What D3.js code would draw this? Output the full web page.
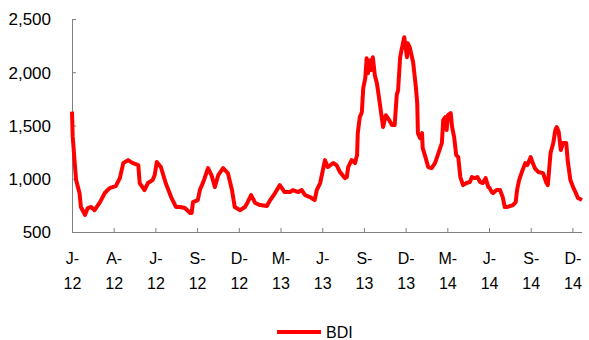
<!DOCTYPE html>
<html>
<head>
<meta charset="utf-8">
<script src="https://cdn.jsdelivr.net/npm/d3@7"></script>
<style>
  html, body { margin: 0; padding: 0; background: #fff; }
  svg { display: block; font-family: "Liberation Sans", Arial, sans-serif; }
</style>
</head>
<body>
<svg id="chart" width="589" height="340"></svg>
<script>
// Baltic Dry Index, Jan 2012 - Dec 2014, by trading-day offset
const day = [0, 1, 4, 6, 11, 13, 19, 23, 28, 33, 41, 48, 55, 64, 70, 75, 82, 89, 97, 99,
  106, 111, 118, 121, 124, 130, 137, 145, 152, 158, 165, 173, 175, 177, 184, 187, 192, 199, 204, 209,
  214, 221, 228, 234, 238, 246, 253, 257, 262, 268, 275, 285, 290, 297, 304, 309, 311, 319, 323, 331,
  336, 341, 348, 355, 358, 363, 367, 370, 374, 382, 387, 392, 399, 402, 404, 409, 414, 417, 418, 421,
  424, 426, 429, 431, 433, 436, 438, 440, 443, 446, 449, 452, 455, 459, 464, 468, 472, 475, 477, 480,
  482, 486, 488, 490, 491, 494, 499, 503, 505, 506, 509, 512, 513, 517, 521, 526, 531, 535, 541, 543,
  546, 548, 550, 554, 556, 559, 562, 565, 568, 572, 577, 582, 585, 589, 593, 597, 601, 605, 609, 611,
  614, 616, 621, 626, 630, 633, 637, 645, 649, 651, 654, 658, 663, 666, 671, 674, 677, 682, 689, 694,
  696, 700, 704, 707, 709, 712, 715, 718, 723, 725, 729, 733, 737, 740, 746];
const bdi = [1630, 1400, 1147, 988, 866, 735, 660, 725, 735, 705, 780, 866, 912, 931, 1006, 1147, 1175, 1147, 1128, 960,
  894, 960, 988, 1035, 1157, 1110, 960, 828, 735, 735, 725, 678, 678, 780, 800, 894, 969, 1100, 1035, 922,
  1035, 1100, 1053, 894, 735, 705, 735, 780, 847, 772, 753, 744, 800, 866, 940, 894, 875, 875, 894, 875,
  894, 847, 828, 800, 894, 960, 1082, 1175, 1110, 1147, 1128, 1063, 1006, 1016, 1110, 1175, 1147, 1222, 1428, 1579,
  1625, 1851, 1945, 2132, 1991, 2113, 2020, 2141, 1972, 1897, 1766, 1625, 1485, 1597, 1550, 1504, 1504, 1785, 1832, 2141,
  2207, 2329, 2235, 2141, 2273, 2235, 2094, 1860, 1710, 1428, 1382, 1428, 1288, 1203, 1110, 1100, 1147, 1222, 1335, 1550,
  1579, 1457, 1597, 1616, 1485, 1391, 1222, 1203, 1016, 940, 960, 969, 1016, 1006, 1016, 969, 960, 1006, 922, 912,
  875, 866, 894, 894, 828, 735, 735, 753, 780, 894, 988, 1063, 1147, 1128, 1203, 1147, 1100, 1063, 1053, 960,
  940, 1241, 1335, 1457, 1485, 1438, 1269, 1335, 1335, 1175, 988, 922, 866, 819, 800];

// Category labels, one every 61 trading days
const tickLabels = ["J-|12", "A-|12", "J-|12", "S-|12", "D-|12", "M-|13", "J-|13",
  "S-|13", "D-|13", "M-|14", "J-|14", "S-|14", "D-|14"];
const tickStep = 61;
const yTicks = [500, 1000, 1500, 2000, 2500];
const seriesName = "BDI";

const svg = d3.select("#chart");
const plotLeft = 72, plotRight = 582, plotTop = 19, plotBottom = 232;

const x = d3.scaleLinear().domain([0, 746]).range([plotLeft, plotRight]);
const y = d3.scaleLinear().domain([500, 2500]).range([plotBottom, plotTop]);

const axisColor = "#808080";

// y axis
const yAxis = d3.axisLeft(y).tickValues(yTicks).tickSize(-4).tickPadding(21)
  .tickFormat(d3.format(","));
const gy = svg.append("g").attr("transform", `translate(${plotLeft},0)`).call(yAxis);
gy.select(".domain").attr("stroke", axisColor);
gy.selectAll(".tick line").attr("stroke", axisColor);
gy.selectAll(".tick text").attr("fill", "#000").style("font-size", "17px")
  .attr("dy", "0.35em");

// x axis
const xTickVals = tickLabels.map((_, i) => i * tickStep);
const xAxis = d3.axisBottom(x).tickValues(xTickVals).tickSize(-4).tickFormat("");
const gx = svg.append("g").attr("transform", `translate(0,${plotBottom})`).call(xAxis);
gx.select(".domain").attr("stroke", axisColor).attr("d", `M${plotLeft},0.5H${plotRight}`);
gx.selectAll(".tick line").attr("stroke", axisColor);
gx.selectAll(".tick").each(function(d, i) {
  const parts = tickLabels[i].split("|");
  const t = d3.select(this).append("text")
    .attr("fill", "#000").attr("text-anchor", "middle").style("font-size", "16px");
  t.append("tspan").attr("x", 0).attr("y", 32).text(parts[0]);
  t.append("tspan").attr("x", 0).attr("y", 57).text(parts[1]);
});

// series line
const line = d3.line().x((d, i) => x(day[i])).y(d => y(d));
svg.append("path").datum(bdi)
  .attr("fill", "none").attr("stroke", "#ff0000").attr("stroke-width", 4)
  .attr("stroke-linejoin", "round").attr("d", line);

// legend
const lg = svg.append("g").attr("transform", "translate(277,332)");
lg.append("line").attr("x1", 0).attr("x2", 44).attr("y1", 0).attr("y2", 0)
  .attr("stroke", "#ff0000").attr("stroke-width", 4);
lg.append("text").attr("x", 49).attr("y", 6).attr("fill", "#000")
  .style("font-size", "16px").text(seriesName);
</script>
</body>
</html>
